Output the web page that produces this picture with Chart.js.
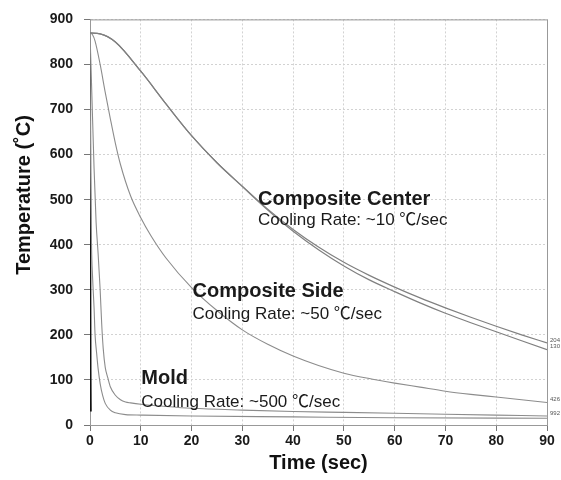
<!DOCTYPE html>
<html>
<head>
<meta charset="utf-8">
<script src="https://cdn.jsdelivr.net/npm/chart.js@4"></script>
<style>
  body { margin: 0; background: #fff; }
  canvas { display: block; }
</style>
</head>
<body>
<canvas id="chart" width="561" height="480"></canvas>
<script>
// 曲线数据 (时间 sec, 温度 °C)
const centerTime = [0, 2, 5, 10, 15, 20, 25, 30, 35, 40, 45, 50, 55, 60, 65, 70, 75, 80, 85, 90];
const centerUpper = [870, 868, 850, 785, 712, 642, 582, 530, 479, 434, 395, 361, 332, 306, 282, 260, 239, 219, 200, 182];
const centerLower = [870, 868, 850, 785, 712, 642, 582, 529, 477, 430, 389, 353, 322, 296, 271, 248, 227, 207, 187, 167];

const sideTime = [0, 0.5, 1, 2, 3, 4, 5, 6, 8, 10, 12, 15, 20, 25, 30, 35, 40, 45, 50, 55, 60, 65, 70, 75, 80, 85, 90];
const sideTemp = [870, 866, 852, 800, 738, 680, 625, 578, 508, 460, 420, 370, 305, 254, 211, 179, 153, 132, 115, 103, 93, 84, 75, 68, 62, 56, 50];

const moldOuterTime = [0, 0.4, 0.8, 1.2, 1.6, 2, 2.3, 2.6, 3, 3.5, 4, 5, 6, 7, 8, 10, 15, 20, 30, 40, 50, 60, 70, 80, 90];
const moldOuterTemp = [870, 720, 570, 450, 380, 300, 225, 170, 128, 105, 85, 66, 56, 51, 49, 46, 41, 37, 33, 30, 28, 26, 24, 22, 20];

const moldInnerTime = [0, 0.15, 0.3, 0.5, 0.8, 1, 1.3, 1.6, 2, 2.5, 3, 4, 5, 7, 10, 20, 40, 60, 90];
const moldInnerTemp = [826, 560, 400, 330, 260, 200, 160, 125, 92, 65, 48, 33, 27, 23, 22, 20, 18, 16, 15];

const moldEdgeTime = [0, 0.05, 0.1, 0.15];
const moldEdgeTemp = [826, 400, 120, 30];

// 末端小标签
const endLabels = ['204', '130', '426', '992'];

// 曲线注释
const notes = [
  { t: 33.1, T: 489, text: 'Composite Center', bold: true },
  { t: 33.1, T: 443, text: 'Cooling Rate: ~10 \u2103/sec', bold: false },
  { t: 20.2, T: 285, text: 'Composite Side', bold: true },
  { t: 20.2, T: 236, text: 'Cooling Rate: ~50 \u2103/sec', bold: false },
  { t: 10.1, T: 92, text: 'Mold', bold: true },
  { t: 10.1, T: 41, text: 'Cooling Rate: ~500 \u2103/sec', bold: false }
];

const FONT = "'Liberation Sans', Arial, 'Noto Sans CJK SC', sans-serif";

function toPoints(xs, ys) {
  return xs.map((x, i) => ({ x: x, y: ys[i] }));
}

function line(data, color, width) {
  return {
    data: data,
    borderColor: color,
    borderWidth: width,
    pointRadius: 0,
    fill: false,
    cubicInterpolationMode: 'monotone'
  };
}

const textPlugin = {
  id: 'textPlugin',
  beforeDatasetsDraw(chart) {
    const { ctx, chartArea: a } = chart;
    ctx.save();
    ctx.strokeStyle = '#999';
    ctx.lineWidth = 1;
    ctx.strokeRect(a.left + 0.5, a.top + 0.5, a.right - a.left, a.bottom - a.top);
    ctx.restore();
  },
  afterDatasetsDraw(chart) {
    const { ctx, scales } = chart;
    ctx.save();
    ctx.fillStyle = '#1a1a1a';
    ctx.textBaseline = 'alphabetic';
    ctx.textAlign = 'left';
    notes.forEach(n => {
      ctx.font = (n.bold ? 'bold 20px ' : '17px ') + FONT;
      ctx.fillText(n.text, scales.x.getPixelForValue(n.t), scales.y.getPixelForValue(n.T));
    });

    // 末端标签
    ctx.font = '6px ' + FONT;
    ctx.fillStyle = '#555';
    ctx.textBaseline = 'middle';
    [0, 1, 2, 3].forEach(i => {
      const pts = chart.getDatasetMeta(i).data;
      const p = pts[pts.length - 1];
      ctx.fillText(endLabels[i], p.x + 3, p.y - 3);
    });

    // 坐标轴标题
    ctx.fillStyle = '#111';
    ctx.font = 'bold 20px ' + FONT;
    ctx.textAlign = 'center';
    ctx.fillText('Time (sec)', (chart.chartArea.left + chart.chartArea.right) / 2, 463);
    ctx.translate(24, 195);
    ctx.rotate(-Math.PI / 2);
    ctx.fillText('Temperature (\u02daC)', 0, 0);
    ctx.restore();
  }
};

new Chart(document.getElementById('chart').getContext('2d'), {
  type: 'line',
  data: {
    datasets: [
      line(toPoints(centerTime, centerUpper), '#808080', 1.2),
      line(toPoints(centerTime, centerLower), '#808080', 1.2),
      line(toPoints(sideTime, sideTemp), '#8c8c8c', 1.1),
      line(toPoints(moldOuterTime, moldOuterTemp), '#8c8c8c', 1.1),
      line(toPoints(moldInnerTime, moldInnerTemp), '#8c8c8c', 1.1),
      line(toPoints(moldEdgeTime, moldEdgeTemp), '#111', 2)
    ]
  },
  options: {
    responsive: false,
    animation: false,
    devicePixelRatio: 1,
    layout: { padding: { top: 13, right: 14, left: 0, bottom: 0 } },
    plugins: {
      legend: { display: false },
      tooltip: { enabled: false }
    },
    scales: {
      x: {
        type: 'linear',
        min: 0,
        max: 90,
        ticks: {
          stepSize: 10,
          padding: 2,
          color: '#1a1a1a',
          font: { family: FONT, size: 14, weight: 'bold' }
        },
        grid: { color: '#d2d2d2', tickLength: 6, tickColor: '#777' },
        border: { color: '#999', dash: [2, 2] },
        afterFit(scale) { scale.height = 55; }
      },
      y: {
        min: 0,
        max: 900,
        ticks: {
          stepSize: 100,
          padding: 11,
          color: '#1a1a1a',
          font: { family: FONT, size: 14, weight: 'bold' }
        },
        grid: { color: '#d2d2d2', tickLength: 6, tickColor: '#777' },
        border: { color: '#999', dash: [2, 2] },
        afterFit(scale) { scale.width = 90; }
      }
    }
  },
  plugins: [textPlugin]
});
</script>
</body>
</html>
